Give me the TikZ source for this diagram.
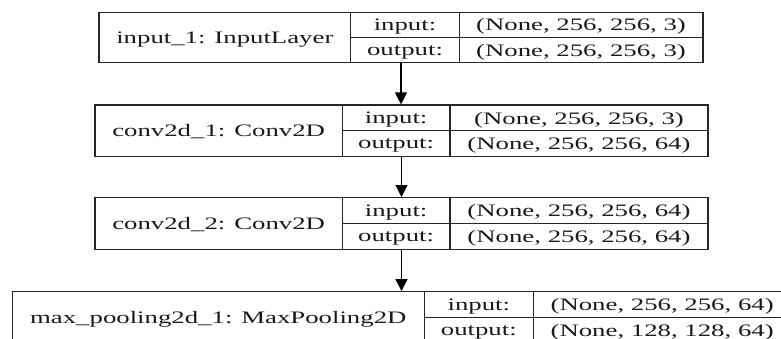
\documentclass[tikz,border=0pt]{standalone}
\usepackage{fontspec}
\setmainfont{Liberation Serif}
\usetikzlibrary{arrows.meta}
\newcommand{\sqz}[1]{\scalebox{1.53}[1]{#1}}
\begin{document}
\begin{tikzpicture}[x=1pt,y=-1pt,
  font=\fontsize{17.5}{20}\selectfont,
  layerbox/.style={draw=black!85, line width=1.2pt, inner sep=0pt},
  lbl/.style={inner sep=0pt, anchor=center, text depth=0pt, text=black!90},
  divider/.style={draw=black!85, line width=1.2pt},
  link/.style={-{Triangle[width=12pt,length=12pt]}, line width=1.2pt}]
\useasboundingbox (0,0) rectangle (781,338);
\clip (0,0) rectangle (781,338);
% Box 1
\node[layerbox, minimum width=604pt, minimum height=50.4pt] (b1) at (401,37.5) {};
\draw[divider] (350.7,12.3) -- (350.7,62.7) (459.3,12.3) -- (459.3,62.7) (350.7,37.5) -- (703,37.5);
\node[lbl] (b1name) at (224.85,37.5) {\sqz{input\_1: InputLayer}};
\node[lbl] (b1in) at (405,24.9) {\sqz{input:}};
\node[lbl] (b1out) at (405,50.1) {\sqz{output:}};
\node[lbl] (b1ins) at (581,24.9) {\sqz{(None, 256, 256, 3)}};
\node[lbl] (b1outs) at (581,50.1) {\sqz{(None, 256, 256, 3)}};
% Box 2
\node[layerbox, minimum width=613pt, minimum height=51.7pt] (b2) at (401.5,130.85) {};
\draw[divider] (342.3,105) -- (342.3,156.7) (450,105) -- (450,156.7) (342.3,130.85) -- (708,130.85);
\node[lbl] (b2name) at (218.65,130.85) {\sqz{conv2d\_1: Conv2D}};
\node[lbl] (b2in) at (396.15,118) {\sqz{input:}};
\node[lbl] (b2out) at (396.15,143.8) {\sqz{output:}};
\node[lbl] (b2ins) at (579,118) {\sqz{(None, 256, 256, 3)}};
\node[lbl] (b2outs) at (579,143.8) {\sqz{(None, 256, 256, 64)}};
% Box 3
\node[layerbox, minimum width=613pt, minimum height=51.7pt] (b3) at (401.5,223.45) {};
\draw[divider] (342.3,197.6) -- (342.3,249.3) (450,197.6) -- (450,249.3) (342.3,223.45) -- (708,223.45);
\node[lbl] (b3name) at (218.65,223.45) {\sqz{conv2d\_2: Conv2D}};
\node[lbl] (b3in) at (396.15,210.5) {\sqz{input:}};
\node[lbl] (b3out) at (396.15,236.4) {\sqz{output:}};
\node[lbl] (b3ins) at (579,210.5) {\sqz{(None, 256, 256, 64)}};
\node[lbl] (b3outs) at (579,236.4) {\sqz{(None, 256, 256, 64)}};
% Box 4
\node[layerbox, minimum width=778.7pt, minimum height=51.3pt] (b4) at (401.65,317.35) {};
\draw[divider] (424.3,291.7) -- (424.3,343) (533.3,291.7) -- (533.3,343) (424.3,317.35) -- (791,317.35);
\node[lbl] (b4name) at (218.3,317.35) {\sqz{max\_pooling2d\_1: MaxPooling2D}};
\node[lbl] (b4in) at (478.8,304.5) {\sqz{input:}};
\node[lbl] (b4out) at (478.8,330.2) {\sqz{output:}};
\node[lbl] (b4ins) at (662.15,304.5) {\sqz{(None, 256, 256, 64)}};
\node[lbl] (b4outs) at (662.15,330.2) {\sqz{(None, 128, 128, 64)}};
% Connectors
\draw[link] (b1.south) -- (b1.south |- b2.north);
\draw[link] (b2.south) -- (b2.south |- b3.north);
\draw[link] (b3.south) -- (b3.south |- b4.north);
\end{tikzpicture}
\end{document}
